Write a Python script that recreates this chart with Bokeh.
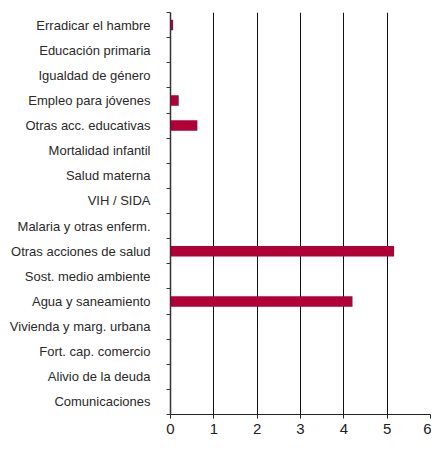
from bokeh.plotting import figure
from bokeh.models import FixedTicker, Range1d, ColumnDataSource
from bokeh.embed import file_html
from bokeh.resources import INLINE

categories = [
    "Erradicar el hambre", "Educación primaria", "Igualdad de género",
    "Empleo para jóvenes", "Otras acc. educativas", "Mortalidad infantil",
    "Salud materna", "VIH / SIDA", "Malaria y otras enferm.",
    "Otras acciones de salud", "Sost. medio ambiente", "Agua y saneamiento",
    "Vivienda y marg. urbana", "Fort. cap. comercio", "Alivio de la deuda",
    "Comunicaciones",
]
values = [0.06, 0, 0, 0.19, 0.62, 0, 0, 0, 0, 5.16, 0, 4.2, 0, 0, 0, 0]
x_ticks = [0, 1, 2, 3, 4, 5, 6]

n = len(categories)
centers = [i + 0.5 for i in range(n)]
src = ColumnDataSource(dict(y=centers, v=values))

p = figure(width=431, height=436, output_backend="svg", toolbar_location=None,
           x_range=Range1d(0, 6), y_range=Range1d(n, 0))
p.min_border_left = 170
p.min_border_right = 1
p.min_border_top = 12
p.min_border_bottom = 18
p.outline_line_color = None
p.background_fill_color = "white"
p.border_fill_color = "white"

p.hbar(y="y", left=0, right="v", height=0.42, source=src,
       fill_color="#B00038", line_color=None)

p.ygrid.visible = False
p.xgrid.ticker = FixedTicker(ticks=x_ticks[1:])
p.xgrid.grid_line_color = "#111111"
p.xgrid.grid_line_width = 1

xa = p.xaxis[0]
xa.ticker = FixedTicker(ticks=x_ticks)
xa.axis_line_color = "#222222"
xa.axis_line_width = 1
xa.major_tick_in = 0
xa.major_tick_out = 4
xa.major_tick_line_color = "#222222"
xa.minor_tick_line_color = None
xa.major_label_text_font = "Liberation Sans"
xa.major_label_text_font_size = "15px"
xa.major_label_text_color = "#222222"
xa.major_label_standoff = 5

ya = p.yaxis[0]
ya.ticker = FixedTicker(ticks=centers, minor_ticks=list(range(n + 1)))
ya.major_label_overrides = {c: name for c, name in zip(centers, categories)}
ya.major_tick_in = 0
ya.major_tick_out = 0
ya.minor_tick_in = 0
ya.minor_tick_out = 4
ya.minor_tick_line_color = "#333333"
ya.axis_line_color = "#333333"
ya.axis_line_width = 1.5
ya.major_label_text_font = "Liberation Sans"
ya.major_label_text_font_size = "13px"
ya.major_label_text_color = "#2a2a2a"
ya.major_label_standoff = 16

open("out.html", "w").write(file_html(p, INLINE))
